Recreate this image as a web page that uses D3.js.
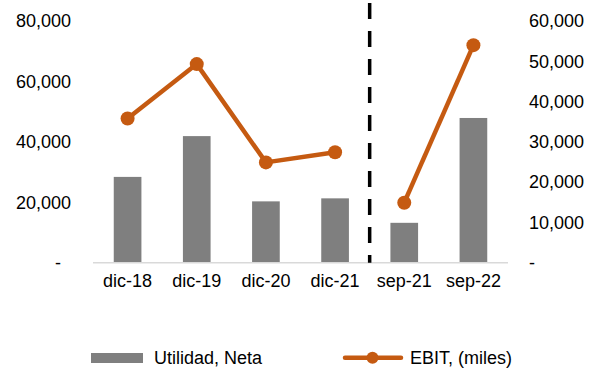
<!DOCTYPE html>
<html><head><meta charset="utf-8">
<script src="https://cdn.jsdelivr.net/npm/d3@7"></script>
<style>body{margin:0;background:#fff}svg{display:block}text{font-family:"Liberation Sans",Arial,sans-serif;fill:#000}</style>
</head><body>
<svg id="c" width="595" height="368"></svg>
<script>
const categories = ["dic-18","dic-19","dic-20","dic-21","sep-21","sep-22"];
const utilidadNeta = [28400, 41900, 20300, 21300, 13200, 47900];
const ebit = [35800, 49300, 24900, 27400, 14900, 54000];
const leftTicks = [0, 20000, 40000, 60000, 80000];
const rightTicks = [0, 10000, 20000, 30000, 40000, 50000, 60000];
const lineSegments = [[0,1,2,3],[4,5]];
const seriesNames = ["Utilidad, Neta", "EBIT, (miles)"];

(function(){
const svg = d3.select("#c");
const pL = 93, pR = 508, pT = 21, pB = 262.7;
const x = d3.scaleBand().domain(categories).range([pL, pR]).padding(0);
const yL = d3.scaleLinear().domain([0, 80000]).range([pB, pT]);
const yR = d3.scaleLinear().domain([0, 60000]).range([pB, pT]);
const fmt = d => d === 0 ? "-" : d3.format(",")(d);
const barW = x.bandwidth() * 0.4;
const fs = "18px";

// bars
svg.append("g").selectAll("rect").data(categories).join("rect")
  .attr("x", d => x(d) + x.bandwidth()/2 - barW/2)
  .attr("width", barW)
  .attr("y", (d,i) => yL(utilidadNeta[i]))
  .attr("height", (d,i) => yL(0) - yL(utilidadNeta[i]))
  .attr("fill", "#7f7f7f");

// baseline
svg.append("line").attr("x1", pL).attr("x2", pR).attr("y1", pB).attr("y2", pB)
  .attr("stroke", "#d9d9d9").attr("stroke-width", 1.5);

// dashed separator
const sepX = (x("dic-21") + x.bandwidth()/2 + x("sep-21") + x.bandwidth()/2) / 2;
svg.append("line").attr("x1", sepX).attr("x2", sepX).attr("y1", 3).attr("y2", pB)
  .attr("stroke", "#000").attr("stroke-width", 3.5).attr("stroke-dasharray", "16,12");

// left axis
const gL = svg.append("g").attr("transform", `translate(71,0)`)
  .call(d3.axisLeft(yL).tickValues(leftTicks).tickFormat(fmt).tickSize(0).tickPadding(0));
gL.select(".domain").remove();
gL.selectAll("text").style("font-size", fs).attr("fill", "#000")
  .attr("dx", d => d === 0 ? "-10" : "0");

// right axis
const gR = svg.append("g").attr("transform", `translate(529,0)`)
  .call(d3.axisRight(yR).tickValues(rightTicks).tickFormat(fmt).tickSize(0).tickPadding(0));
gR.select(".domain").remove();
gR.selectAll("text").style("font-size", fs).attr("fill", "#000");

// x axis labels
const gX = svg.append("g").attr("transform", `translate(0,${pB})`)
  .call(d3.axisBottom(x).tickSize(0).tickPadding(12));
gX.select(".domain").remove();
gX.selectAll("text").style("font-size", fs).attr("fill", "#000");

// line
const color = "#c55a11";
const line = d3.line().x(i => x(categories[i]) + x.bandwidth()/2).y(i => yR(ebit[i]));
svg.append("g").selectAll("path").data(lineSegments).join("path")
  .attr("d", line).attr("fill", "none").attr("stroke", color).attr("stroke-width", 4.5)
  .attr("stroke-linejoin", "round");
svg.append("g").selectAll("circle").data(categories).join("circle")
  .attr("cx", d => x(d) + x.bandwidth()/2).attr("cy", (d,i) => yR(ebit[i]))
  .attr("r", 7).attr("fill", color);

// legend
const lg = svg.append("g");
lg.append("rect").attr("x", 91).attr("y", 353).attr("width", 52).attr("height", 10).attr("fill", "#7f7f7f");
lg.append("text").attr("x", 154).attr("y", 364).style("font-size", fs).text(seriesNames[0]);
lg.append("line").attr("x1", 345).attr("x2", 401).attr("y1", 357.7).attr("y2", 357.7)
  .attr("stroke", color).attr("stroke-width", 4.5).attr("stroke-linecap", "round");
lg.append("circle").attr("cx", 372.5).attr("cy", 357.7).attr("r", 6).attr("fill", color);
lg.append("text").attr("x", 410).attr("y", 364).style("font-size", fs).text(seriesNames[1]);
})();
</script>
</body></html>
